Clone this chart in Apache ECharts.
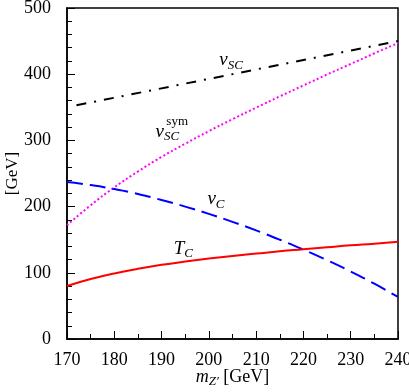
<!DOCTYPE html>
<html>
<head>
<meta charset="utf-8">
<script src="https://cdn.jsdelivr.net/npm/echarts@6/dist/echarts.min.js"></script>
<style>
  html, body { margin: 0; padding: 0; background: #fff; }
  #chart { width: 409px; height: 392px; }
</style>
</head>
<body>
<div id="chart"></div>
<script>
// m_Z' values (GeV) used for the sampled curves
const mZ = [170, 175, 180, 185, 190, 195, 200, 205, 210, 215, 220, 225, 230, 235, 240]

// GeV
const vSymValues = [172, 202, 229, 253, 275, 295, 314, 332, 349.5, 366.5, 383, 399.5, 415.5, 431.5, 447]
const vCValues   = [237, 232.5, 226.5, 219, 210, 200, 189, 177, 164, 150, 135, 119, 102, 83.5, 63.5]
const tCValues   = [80, 90.5, 99, 106, 112, 117, 121.5, 125.5, 129, 132.5, 135.5, 138.5, 141.5, 144, 147]
// v_SC is a straight line, starts at 172
const vSCPoints  = [[172, 353], [240, 450]]

const FONT = 'Liberation Serif'

const pair = (vals) => mZ.map((m, i) => [m, vals[i]])

// curve labels, in data coordinates
const mathRich = {
  v: { fontFamily: FONT, fontStyle: 'italic', fontSize: 19, color: '#000' },
  s: { fontFamily: FONT, fontStyle: 'italic', fontSize: 13, color: '#000', padding: [10, 0, 0, 0] },
  t: { fontFamily: FONT, fontSize: 13, color: '#000' }
}

const curveLabel = (coord, text) => ({
  data: [{ coord: coord }],
  symbol: 'circle',
  symbolSize: 0,
  silent: true,
  animation: false,
  label: {
    show: true,
    position: 'inside',
    formatter: text,
    rich: mathRich
  }
})

const chart = echarts.init(document.getElementById('chart'))

const option = {
  animation: false,
  backgroundColor: '#fff',
  grid: {
    left: 67, right: 11, top: 8, bottom: 53,
    containLabel: false,
    outerBoundsMode: 'none',
    show: true, borderColor: '#000', borderWidth: 1.5, backgroundColor: 'transparent'
  },
  xAxis: {
    type: 'value',
    min: 170, max: 240, interval: 10,
    name: '{m|m}{z|Z′} [GeV]',
    nameLocation: 'middle',
    nameGap: 27,
    nameMoveOverlap: false,
    nameTextStyle: {
      fontFamily: FONT, fontSize: 18, color: '#000',
      rich: {
        m: { fontFamily: FONT, fontStyle: 'italic', fontSize: 18, color: '#000' },
        z: { fontFamily: FONT, fontStyle: 'italic', fontSize: 13, color: '#000', padding: [9, 0, 0, 0] }
      }
    },
    axisLine: { show: true, lineStyle: { color: '#000', width: 1.5 } },
    axisTick: { show: true, inside: true, length: 8, lineStyle: { color: '#000', width: 1 } },
    minorTick: { show: true, splitNumber: 2, length: 5, lineStyle: { color: '#000', width: 1 } },
    axisLabel: { fontFamily: FONT, fontSize: 18, color: '#000', margin: 12 },
    splitLine: { show: false }
  },
  yAxis: {
    type: 'value',
    min: 0, max: 500, interval: 100,
    name: '[GeV]',
    nameLocation: 'middle',
    nameGap: 46,
    nameMoveOverlap: false,
    nameTextStyle: { fontFamily: FONT, fontSize: 17, color: '#000' },
    axisLine: { show: true, lineStyle: { color: '#000', width: 1.5 } },
    axisTick: { show: true, inside: true, length: 8, lineStyle: { color: '#000', width: 1 } },
    minorTick: { show: true, splitNumber: 5, length: 5, lineStyle: { color: '#000', width: 1 } },
    axisLabel: { fontFamily: FONT, fontSize: 18, color: '#000', margin: 16 },
    splitLine: { show: false }
  },
  series: [
    {
      name: 'vSC',
      type: 'line',
      data: vSCPoints,
      showSymbol: false,
      lineStyle: { color: '#000', width: 2, type: [10, 8, 2, 8] },
      markPoint: curveLabel([204.7, 421], '{v|v}{s|SC}')
    },
    {
      name: 'vSCsym',
      type: 'line',
      data: pair(vSymValues),
      smooth: true,
      showSymbol: false,
      lineStyle: { color: '#ff00ff', width: 2, type: [2, 2.4] },
      markPoint: {
        data: [{ coord: [191.2, 313] }, { coord: [193.3, 328] }],
        symbol: 'circle',
        symbolSize: 0,
        silent: true,
        label: {
          show: true,
          position: 'inside',
          formatter: (p) => p.dataIndex === 0 ? '{v|v}{s|SC}' : '{t|sym}',
          rich: mathRich
        }
      }
    },
    {
      name: 'vC',
      type: 'line',
      data: pair(vCValues),
      smooth: true,
      showSymbol: false,
      lineStyle: { color: '#0000ff', width: 2, type: [16, 7] },
      markPoint: curveLabel([201.5, 211], '{v|v}{s|C}')
    },
    {
      name: 'TC',
      type: 'line',
      data: pair(tCValues),
      smooth: true,
      showSymbol: false,
      lineStyle: { color: '#ff0000', width: 2, type: 'solid' },
      markPoint: curveLabel([194.6, 136], '{v|T}{s|C}')
    }
  ]
}

chart.setOption(option)
</script>
</body>
</html>
